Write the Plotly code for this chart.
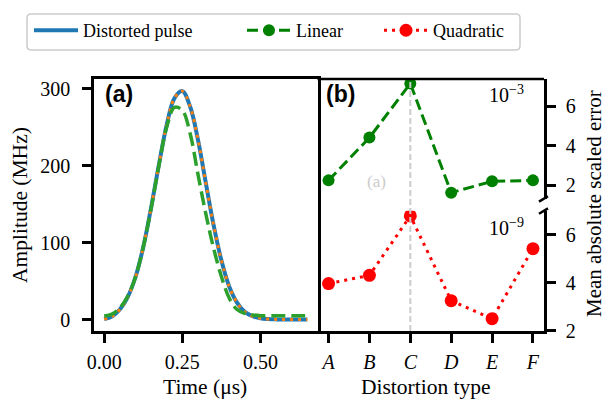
import plotly.graph_objects as go

# ---------------- data ----------------
time_us = [0.0, 0.025, 0.05, 0.075, 0.1, 0.125, 0.15, 0.175, 0.2, 0.225, 0.25, 0.275,
           0.3, 0.325, 0.35, 0.375, 0.4, 0.425, 0.45, 0.475, 0.5, 0.525, 0.55, 0.575,
           0.6, 0.625, 0.65]
distorted_pulse = [0.5, 4, 13, 29, 55, 94, 145, 201, 253, 288, 297, 277, 234, 178, 123,
                   77, 43, 22, 10, 4.3, 1.6, 0.6, 0.2, 0.1, 0, 0, 0]
quadratic_pulse = [0.5, 4, 13, 29, 55, 94, 145, 201, 253, 288, 297, 277, 234, 178, 123,
                   77, 43, 22, 10, 4.3, 1.6, 0.6, 0.2, 0.1, 0, 0, 0]
linear_pulse = [4.5, 7, 15, 30, 55, 94, 144, 200, 250, 276, 272, 242, 189, 138, 93,
                56, 28, 13, 8, 6, 5, 5, 5, 5, 5, 5, 5]

distortion_types = ["A", "B", "C", "D", "E", "F"]
linear_error = [2.25, 4.41, 7.14, 1.63, 2.2, 2.25]        # x 10^-3
quadratic_error = [3.97, 4.31, 6.78, 3.26, 2.51, 5.42]    # x 10^-9
x_ticks_a = [0, 0.25, 0.5]
x_ticktext_a = ["0.00", "0.25", "0.50"]
y_ticks_a = [0, 100, 200, 300]
y_ticks_b = [2, 4, 6]

# ---------------- geometry helpers ----------------
W, H = 607, 407
L, R, T, B = 94, 63, 71, 76
PW = W - L - R
PH = H - T - B


def px(x):
    return (x - L) / PW


def py(y):
    return (H - B - y) / PH


split = px(317.5)
FONT = "Liberation Serif"
xpos = list(range(len(distortion_types)))

fig = go.Figure()

# panel (a)
fig.add_trace(go.Scatter(x=time_us, y=distorted_pulse, mode="lines", name="Distorted pulse",
                         line=dict(color="#1f77b4", width=4, shape="spline"),
                         legend="legend", xaxis="x", yaxis="y"))
fig.add_trace(go.Scatter(x=time_us, y=quadratic_pulse, mode="lines", showlegend=False,
                         line=dict(color="#ff7f0e", width=3, dash="3px,5px", shape="spline"),
                         xaxis="x", yaxis="y"))
fig.add_trace(go.Scatter(x=time_us, y=linear_pulse, mode="lines", showlegend=False,
                         line=dict(color="#2ca02c", width=3.5, dash="14px,6px", shape="spline"),
                         xaxis="x", yaxis="y"))

# panel (b)
fig.add_trace(go.Scatter(x=xpos, y=linear_error, mode="lines+markers", name="Linear",
                         line=dict(color="green", width=3, dash="11px,5px"),
                         marker=dict(size=12, color="green"),
                         legend="legend2", xaxis="x2", yaxis="y2"))
fig.add_trace(go.Scatter(x=xpos, y=quadratic_error, mode="lines+markers", name="Quadratic",
                         line=dict(color="red", width=3, dash="3px,5px"),
                         marker=dict(size=13, color="red"),
                         legend="legend3", xaxis="x2", yaxis="y3"))

axis_common = dict(showgrid=False, zeroline=False, ticks="outside", ticklen=9, tickwidth=2.5,
                   tickcolor="black", showline=True, linewidth=2.5, linecolor="black",
                   tickfont=dict(family=FONT, size=20, color="black"))

fig.update_layout(
    width=W, height=H, margin=dict(l=L, r=R, t=T, b=B),
    paper_bgcolor="white", plot_bgcolor="white",
    font=dict(family=FONT, size=20, color="black"),
    xaxis=dict(domain=[0, split], range=[-0.0325, 0.6825], tickvals=x_ticks_a,
               ticktext=x_ticktext_a, mirror=True, anchor="y", ticklabelstandoff=2, **axis_common),
    yaxis=dict(domain=[0, 1], range=[-14.9, 312.8], tickvals=y_ticks_a, mirror=True,
               anchor="x", ticklabelstandoff=8, **axis_common),
    xaxis2=dict(domain=[split, 1], range=[-0.27, 5.27], tickvals=xpos,
                ticktext=["<i>%s</i>" % c for c in distortion_types], anchor="y3",
                ticklabelstandoff=2, **axis_common),
    yaxis2=dict(domain=[py(195), 1], range=[1.30, 7.37], tickvals=y_ticks_b, side="right",
                anchor="x2", ticklabelstandoff=6, **axis_common),
    yaxis3=dict(domain=[0, py(207)], range=[2, 6.99], tickvals=y_ticks_b, side="right",
                anchor="x2", ticklabelstandoff=6, **axis_common),
)

leg_common = dict(orientation="h", xanchor="left", yanchor="middle", y=py(21),
                  bgcolor="rgba(0,0,0,0)", borderwidth=0, itemwidth=44,
                  font=dict(family=FONT, size=18, color="black"))
fig.update_layout(
    legend=dict(x=px(29), **leg_common),
    legend2=dict(x=px(242), **leg_common),
    legend3=dict(x=px(379), **leg_common),
)

# legend frame (rounded rectangle)
x0, x1, y0, y1 = px(27), px(520), py(41), py(4)
rx, ry = 4 / PW, 4 / PH
path = (f"M{x0 + rx},{y1} L{x1 - rx},{y1} Q{x1},{y1} {x1},{y1 - ry} "
        f"L{x1},{y0 + ry} Q{x1},{y0} {x1 - rx},{y0} L{x0 + rx},{y0} "
        f"Q{x0},{y0} {x0},{y0 + ry} L{x0},{y1 - ry} Q{x0},{y1} {x0 + rx},{y1} Z")
shapes = [
    dict(type="path", xref="paper", yref="paper", path=path,
         line=dict(color="#cccccc", width=1.5), fillcolor="rgba(0,0,0,0)"),
    # top border of panel (b)
    dict(type="line", xref="paper", yref="paper", x0=split, x1=1, y0=1, y1=1,
         line=dict(color="black", width=2.5)),
    # vertical reference at C
    dict(type="line", xref="x2", yref="paper", x0=2, x1=2, y0=0, y1=1, layer="above",
         line=dict(color="#cccccc", width=2, dash="6px,3px")),
    # axis break marks
    dict(type="line", xref="paper", yref="paper", x0=px(539), x1=px(548), y0=py(197.5), y1=py(192),
         line=dict(color="black", width=2.5)),
    dict(type="line", xref="paper", yref="paper", x0=px(539), x1=px(548), y0=py(210), y1=py(204.5),
         line=dict(color="black", width=2.5)),
]
fig.update_layout(shapes=shapes)

TITLE = dict(family=FONT, size=21.5, color="black")
ann = [
    dict(text="Amplitude (MHz)", x=px(20), y=0.5, textangle=-90, font=TITLE),
    dict(text="Time (μs)", x=px(205), y=py(389), font=TITLE),
    dict(text="Distortion type", x=px(426), y=py(389), font=TITLE),
    dict(text="Mean absolute scaled error", x=px(594), y=py(200), textangle=-90,
         font=dict(family=FONT, size=21, color="black")),
    dict(text="<b>(a)</b>", x=px(118.7), y=py(86.7),
         font=dict(family="Liberation Sans", size=23, color="black")),
    dict(text="<b>(b)</b>", x=px(340), y=py(86.7),
         font=dict(family="Liberation Sans", size=23, color="black")),
    dict(text="10<sup>−3</sup>", x=px(506), y=py(86.7)),
    dict(text="10<sup>−9</sup>", x=px(506), y=py(223.3)),
    dict(text="(a)", x=px(376.7), y=py(176.7), font=dict(family=FONT, size=17, color="#cccccc")),
]
for a in ann:
    a.setdefault("font", dict(family=FONT, size=20, color="black"))
    fig.add_annotation(xref="paper", yref="paper", showarrow=False,
                       xanchor="center", yanchor="middle", **a)

fig.write_html("out.html")
